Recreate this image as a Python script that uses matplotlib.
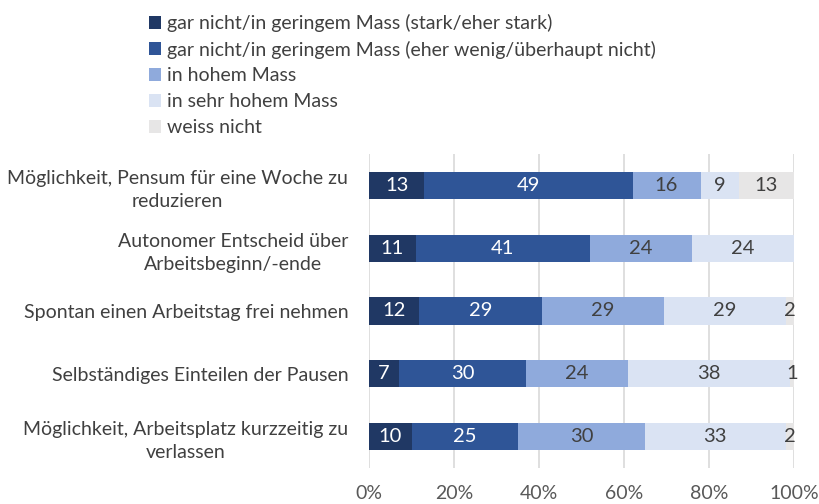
import matplotlib
matplotlib.use("Agg")
import matplotlib.pyplot as plt
import numpy as np

plt.rcParams['font.family'] = ['Lato', 'DejaVu Sans']

categories = [
    "Möglichkeit, Pensum für eine Woche zu\nreduzieren",
    "Autonomer Entscheid über\nArbeitsbeginn/-ende",
    "Spontan einen Arbeitstag frei nehmen",
    "Selbständiges Einteilen der Pausen",
    "Möglichkeit, Arbeitsplatz kurzzeitig zu\nverlassen",
]
series_names = [
    "gar nicht/in geringem Mass (stark/eher stark)",
    "gar nicht/in geringem Mass (eher wenig/überhaupt nicht)",
    "in hohem Mass",
    "in sehr hohem Mass",
    "weiss nicht",
]
stark = [13, 11, 12, 7, 10]
wenig = [49, 41, 29, 30, 25]
hoch = [16, 24, 29, 24, 30]
sehr_hoch = [9, 24, 29, 38, 33]
weiss_nicht = [13, 0, 2, 1, 2]
tick_labels = ["0%", "20%", "40%", "60%", "80%", "100%"]

colors = ["#203864", "#2F5597", "#8FAADC", "#DAE3F3", "#E7E6E6"]
text_colors = ["white", "white", "#404040", "#404040", "#404040"]

data = np.array([stark, wenig, hoch, sehr_hoch, weiss_nicht], dtype=float)
totals = data.sum(axis=0)
pct = data / totals * 100

fig = plt.figure(figsize=(8.19, 5.04), dpi=100)
ax = fig.add_axes([369/819, 1 - 468/504, (794-369)/819, (468-154)/504])

y = np.arange(len(categories))
left = np.zeros(len(categories))
handles = []
for i, name in enumerate(series_names):
    bars = ax.barh(y, pct[i], left=left, height=0.43, color=colors[i], label=name, zorder=3)
    handles.append(bars)
    for j in range(len(categories)):
        v = data[i, j]
        if v > 0:
            ax.text(left[j] + pct[i, j] / 2, y[j], f"{int(v)}", ha='center', va='center',
                    color=text_colors[i], fontsize=14.5, zorder=4)
    left += pct[i]

ax.set_xlim(0, 100)
ax.set_ylim(len(categories) - 0.5, -0.5)
ax.set_xticks([0, 20, 40, 60, 80, 100])
ax.set_xticklabels(tick_labels, fontsize=14, color="#595959")
ax.set_yticks(y)
ax.set_yticklabels(categories, fontsize=14, color="#404040", multialignment='center',
                   linespacing=1.45)
ax.tick_params(axis='both', length=0)
ax.tick_params(axis='x', pad=12)
ax.tick_params(axis='y', pad=15)
ax.grid(axis='x', color="#D9D9D9", linewidth=1.2, zorder=0)
for s in ax.spines.values():
    s.set_visible(False)

fig.legend(handles=handles, labels=series_names, loc='upper left', bbox_to_anchor=(141/819, 1 - 6/504),
           frameon=False, fontsize=14, labelcolor="#404040", handlelength=0.65, handleheight=0.65,
           handletextpad=0.3, labelspacing=0.45, borderaxespad=0)

fig.savefig("out.png", dpi=100)
